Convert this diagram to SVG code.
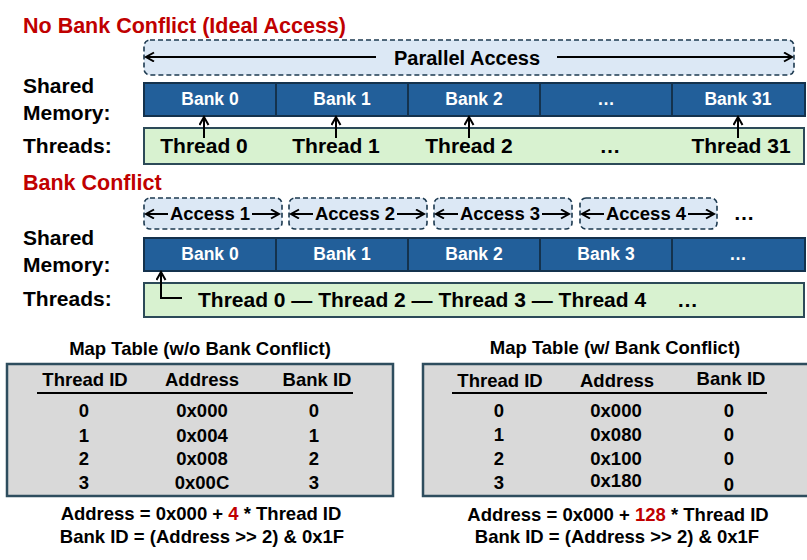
<svg xmlns="http://www.w3.org/2000/svg" width="807" height="560" viewBox="0 0 807 560">
<defs>
<marker id="ah" markerUnits="userSpaceOnUse" markerWidth="12" markerHeight="12" refX="9" refY="5" orient="auto">
<path d="M1,0.5 L9,5 L1,9.5" fill="none" stroke="#000" stroke-width="2"/>
</marker>
</defs>
<style>
text{font-family:"Liberation Sans",Arial,sans-serif;font-weight:bold;fill:#000}
.red{fill:#c00000;font-size:21.5px}
.lbl{font-size:21px}
.bank rect{fill:#225f9a;stroke:#14324d;stroke-width:2}
.bank text{fill:#fff;font-size:17.5px;text-anchor:middle}
.thr{fill:#d8f2d0;stroke:#2c4a58;stroke-width:2}
.tt{font-size:21px;text-anchor:middle}
.pa{font-size:20px;text-anchor:middle}
.dash{fill:#dce8f5;stroke:#1d3a50;stroke-width:1.6;stroke-dasharray:5 3}
.acc{font-size:18.5px;text-anchor:middle}
.conn line,.conn path{stroke:#000;stroke-width:2;fill:none}
.tbl{fill:#d9d9d9;stroke:#2e4d5e;stroke-width:2.5}
.th{font-size:18.5px;text-anchor:middle}
.td{font-size:18.5px;text-anchor:middle}
.cap{font-size:18.5px;text-anchor:middle}
.hl{fill:#c00000}
</style>

<!-- Section 1 -->
<text class="red" x="23" y="33">No Bank Conflict (Ideal Access)</text>
<g id="parallel-access">
<rect class="dash" x="144" y="40" width="650" height="35" rx="6"/>
<text class="pa" x="467" y="65">Parallel Access</text>
</g>
<g id="labels1">
<text class="lbl" x="23" y="93">Shared</text>
<text class="lbl" x="23" y="120">Memory:</text>
<text class="lbl" x="23" y="153">Threads:</text>
</g>
<g id="banks1" class="bank">
<rect x="144" y="83" width="132" height="33"/>
<rect x="276" y="83" width="132" height="33"/>
<rect x="408" y="83" width="132" height="33"/>
<rect x="540" y="83" width="132" height="33"/>
<rect x="672" y="83" width="133" height="33"/>
<text x="210" y="105">Bank 0</text>
<text x="342" y="105">Bank 1</text>
<text x="474" y="105">Bank 2</text>
<text x="606" y="105">…</text>
<text x="738" y="105">Bank 31</text>
</g>
<g id="threads1">
<rect class="thr" x="144" y="128" width="660" height="36"/>
<text class="tt" x="204" y="153">Thread 0</text>
<text class="tt" x="336" y="153">Thread 1</text>
<text class="tt" x="469" y="153">Thread 2</text>
<text class="tt" x="610" y="153">…</text>
<text class="tt" x="741" y="153">Thread 31</text>
</g>

<!-- Section 2 -->
<text class="red" x="23" y="190">Bank Conflict</text>
<g id="access1"><rect class="dash" x="144" y="198" width="138" height="31" rx="6"/><text class="acc" x="210" y="220">Access 1</text></g>
<g id="access2"><rect class="dash" x="289" y="198" width="138" height="31" rx="6"/><text class="acc" x="355" y="220">Access 2</text></g>
<g id="access3"><rect class="dash" x="434" y="198" width="138" height="31" rx="6"/><text class="acc" x="500" y="220">Access 3</text></g>
<g id="access4"><rect class="dash" x="580" y="198" width="137" height="31" rx="6"/><text class="acc" x="646" y="220">Access 4</text></g>
<text class="tt" x="744" y="220">…</text>
<g id="labels2">
<text class="lbl" x="23" y="245">Shared</text>
<text class="lbl" x="23" y="272">Memory:</text>
<text class="lbl" x="23" y="306">Threads:</text>
</g>
<g id="banks2" class="bank">
<rect x="144" y="238" width="132" height="33"/>
<rect x="276" y="238" width="132" height="33"/>
<rect x="408" y="238" width="132" height="33"/>
<rect x="540" y="238" width="132" height="33"/>
<rect x="672" y="238" width="133" height="33"/>
<text x="210" y="260">Bank 0</text>
<text x="342" y="260">Bank 1</text>
<text x="474" y="260">Bank 2</text>
<text x="606" y="260">Bank 3</text>
<text x="738" y="260">…</text>
</g>
<g id="threads2">
<rect class="thr" x="144" y="283" width="660" height="34"/>
<text class="tt" x="198" y="307" style="text-anchor:start">Thread 0 — Thread 2 — Thread 3 — Thread 4<tspan x="677">…</tspan></text>
</g>

<g id="connectors" class="conn">
<line x1="376" y1="57" x2="146" y2="57" marker-end="url(#ah)"/>
<line x1="557" y1="57" x2="792" y2="57" marker-end="url(#ah)"/>
<line x1="204" y1="138" x2="204" y2="117" marker-end="url(#ah)"/>
<line x1="336" y1="138" x2="336" y2="117" marker-end="url(#ah)"/>
<line x1="469" y1="138" x2="469" y2="117" marker-end="url(#ah)"/>
<line x1="738" y1="138" x2="738" y2="117" marker-end="url(#ah)"/>
<path d="M182,298 H161 V272" marker-end="url(#ah)"/>
<line x1="168" y1="214" x2="146" y2="214" marker-end="url(#ah)"/>
<line x1="252" y1="214" x2="279" y2="214" marker-end="url(#ah)"/>
<line x1="313" y1="214" x2="291" y2="214" marker-end="url(#ah)"/>
<line x1="397" y1="214" x2="424" y2="214" marker-end="url(#ah)"/>
<line x1="458" y1="214" x2="436" y2="214" marker-end="url(#ah)"/>
<line x1="542" y1="214" x2="569" y2="214" marker-end="url(#ah)"/>
<line x1="604" y1="214" x2="582" y2="214" marker-end="url(#ah)"/>
<line x1="688" y1="214" x2="714" y2="214" marker-end="url(#ah)"/>
</g>

<!-- Table 1 -->
<g id="table1">
<text class="cap" x="200" y="355">Map Table (w/o Bank Conflict)</text>
<rect class="tbl" x="7" y="364" width="386" height="132"/>
<text class="th" x="85" y="386">Thread ID</text>
<text class="th" x="202" y="386">Address</text>
<text class="th" x="317" y="386">Bank ID</text>
<line x1="37" y1="393" x2="353" y2="393" stroke="#000" stroke-width="2"/>
<text class="td" x="84" y="417">0</text><text class="td" x="202" y="417">0x000</text><text class="td" x="314" y="417">0</text>
<text class="td" x="84" y="442">1</text><text class="td" x="202" y="442">0x004</text><text class="td" x="314" y="442">1</text>
<text class="td" x="84" y="465">2</text><text class="td" x="202" y="465">0x008</text><text class="td" x="314" y="465">2</text>
<text class="td" x="84" y="489">3</text><text class="td" x="202" y="489">0x00C</text><text class="td" x="314" y="489">3</text>
<text class="cap" x="201" y="520">Address = 0x000 + <tspan class="hl">4</tspan> * Thread ID</text>
<text class="cap" x="202" y="543">Bank ID = (Address &gt;&gt; 2) &amp; 0x1F</text>
</g>

<!-- Table 2 -->
<g id="table2">
<text class="cap" x="615" y="354">Map Table (w/ Bank Conflict)</text>
<rect class="tbl" x="423" y="364" width="390" height="132"/>
<text class="th" x="500" y="387">Thread ID</text>
<text class="th" x="617" y="387">Address</text>
<text class="th" x="731" y="385">Bank ID</text>
<line x1="452" y1="393" x2="767" y2="393" stroke="#000" stroke-width="2"/>
<text class="td" x="499" y="417">0</text><text class="td" x="616" y="417">0x000</text><text class="td" x="729" y="417">0</text>
<text class="td" x="499" y="441">1</text><text class="td" x="616" y="441">0x080</text><text class="td" x="729" y="441">0</text>
<text class="td" x="499" y="465">2</text><text class="td" x="616" y="465">0x100</text><text class="td" x="729" y="465">0</text>
<text class="td" x="499" y="489">3</text><text class="td" x="616" y="487">0x180</text><text class="td" x="729" y="491">0</text>
<text class="cap" x="618" y="521">Address = 0x000 + <tspan class="hl">128</tspan> * Thread ID</text>
<text class="cap" x="617" y="543">Bank ID = (Address &gt;&gt; 2) &amp; 0x1F</text>
</g>
</svg>
